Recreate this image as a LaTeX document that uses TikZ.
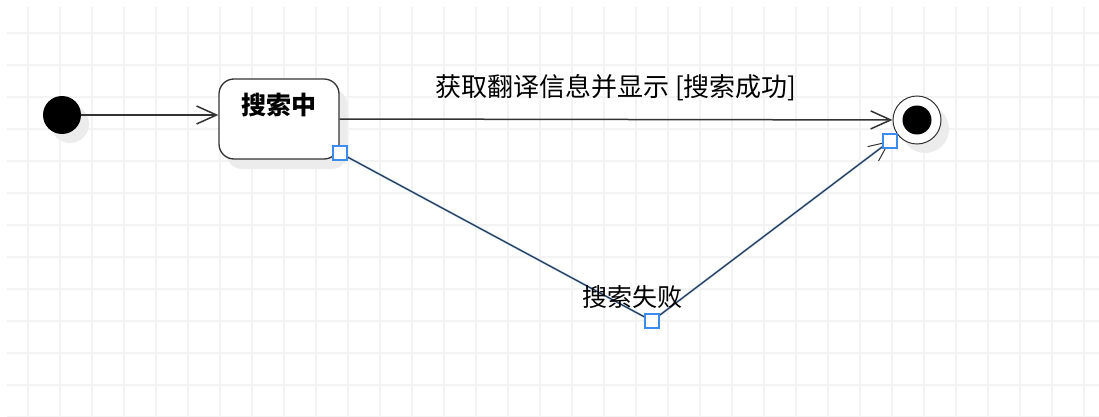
\documentclass[tikz,border=0pt]{standalone}
\usepackage{fontspec}
\newfontfamily\cjk{Noto Sans CJK SC}
\usetikzlibrary{arrows.meta,shadows}
\definecolor{gridgray}{HTML}{F3F3F3}
\definecolor{linegray}{HTML}{333333}
\definecolor{selblue}{HTML}{3C8CF0}
\definecolor{shadowgray}{HTML}{ECECEC}

\begin{document}
\begin{tikzpicture}[x=1pt,y=-1pt,
  lbl/.style={font=\cjk\fontsize{25}{29}\selectfont,inner sep=0pt},
  trans/.style={draw=linegray,line width=1.5pt,-{Straight Barb[length=20pt,width=18pt]}},
  initial/.style={circle,fill=black,minimum size=38pt,inner sep=0pt,
    drop shadow={fill=shadowgray,opacity=1,shadow xshift=8pt,shadow yshift=-9pt}},
  state/.style={draw=linegray,line width=1.3pt,fill=white,rounded corners=15pt,
    minimum width=120pt,minimum height=80pt,inner sep=0pt,
    drop shadow={fill=shadowgray,opacity=1,shadow xshift=8pt,shadow yshift=-10pt}},
  final/.style={circle,draw=linegray,line width=1pt,fill=white,minimum size=48pt,inner sep=0pt,
    path picture={\fill[black] (path picture bounding box.center) circle (14.5pt);},
    drop shadow={fill=shadowgray,opacity=1,shadow xshift=8pt,shadow yshift=-9pt}},
  handle/.style={draw=selblue,line width=1.2pt,fill=white,minimum size=14pt,inner sep=0pt}]

  % fondo y rejilla
  \useasboundingbox (0,0) rectangle (1099,417);
  \fill[white] (0,0) rectangle (1099,417);
  \foreach \x in {28,60,...,1099} \draw[gridgray,line width=1.6pt] (\x,7) -- (\x,417);
  \foreach \y in {33,65,...,417} \draw[gridgray,line width=1.6pt] (7,\y) -- (1099,\y);

  % estados
  \node[initial] (start) at (62,115) {};
  \node[state] (search) at (279,119) {};
  \node[lbl,font=\cjk\bfseries\fontsize{25}{29}\selectfont] (searchname) at (279,105) {搜索中};
  \node[final] (end) at (917,120) {};

  % puntos de control de la transición seleccionada
  \coordinate (h1) at (340,153);
  \coordinate (bend) at (652,321);
  \coordinate (h2) at (890,141);

  % transiciones
  \draw[trans] (start) -- (start -| search.west);
  \draw[trans] (search.east) -- (end)
    node[midway,above=18pt,lbl,font=\cjk\fontsize{26}{30}\selectfont] (ok) {获取翻译信息并显示 [搜索成功]};
  \draw[selblue!70,line width=2pt] (h1) -- (bend) -- (h2);
  \draw[trans,line width=1pt] (h1) -- (bend) -- (h2);
  \node[lbl] (fail) at ([xshift=-20pt,yshift=24pt]bend) {搜索失败};

  % asas de selección
  \node[handle] (hs1) at (h1) {};
  \node[handle] (hs2) at (bend) {};
  \node[handle] (hs3) at (h2) {};
\end{tikzpicture}
\end{document}
